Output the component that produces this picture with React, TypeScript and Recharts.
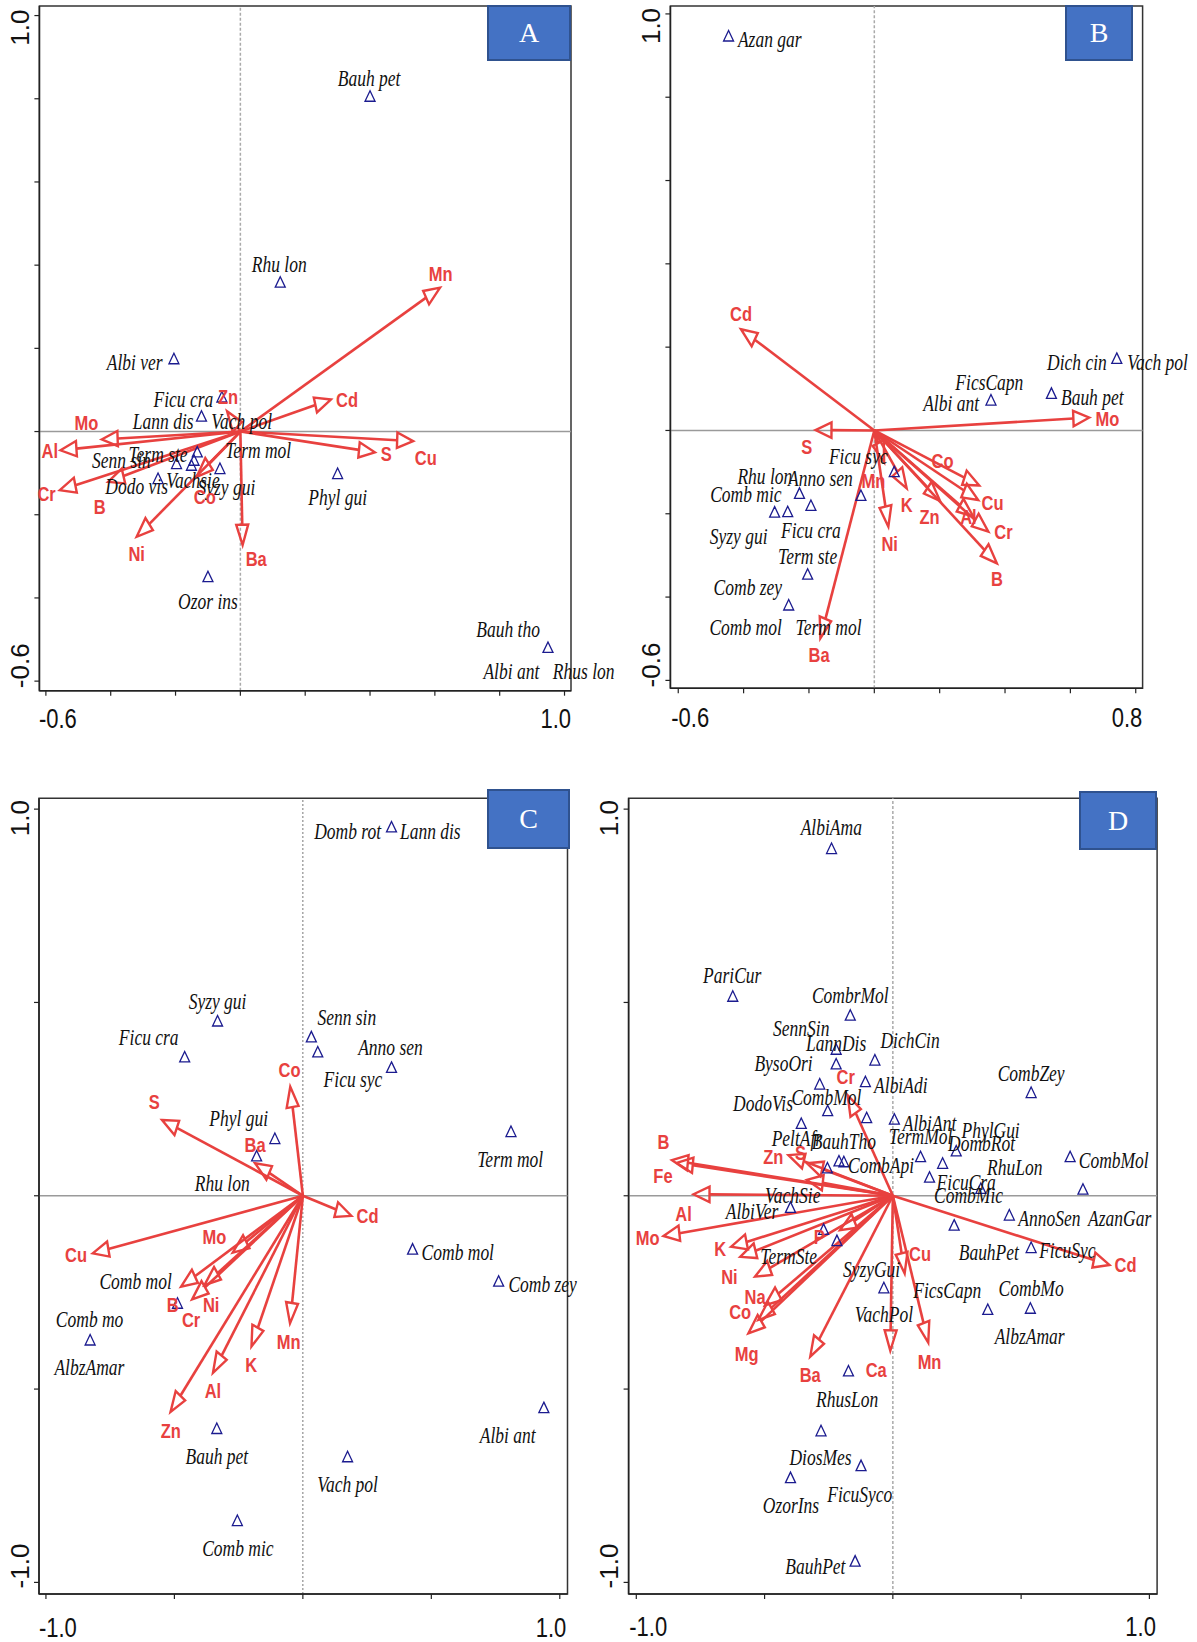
import React from 'react';
import { ScatterChart, Scatter, XAxis, YAxis, ReferenceLine, ReferenceArea } from 'recharts';

type Tag = [string, number, number, ('start' | 'middle' | 'end')?];
type Pt = [number, number];

const RED = '#e8413f';
const NAVY = '#1b1b8f';
// the source figure is stretched vertically, so text and arrow heads are too
const SY = 1.28;

// ---------- Panel A ----------
const A_X_TICKS = [-0.6, -0.4, -0.2, 0, 0.2, 0.4, 0.6, 0.8, 1.0];
const A_Y_TICKS = [-0.6, -0.4, -0.2, 0, 0.2, 0.4, 0.6, 0.8, 1.0];
const A_SPECIES: Pt[] = [
  [0.4, 0.806], [0.123, 0.359], [-0.205, 0.175], [-0.057, 0.083], [-0.12, 0.037],
  [-0.133, -0.049], [-0.143, -0.069], [-0.197, -0.077], [-0.151, -0.081], [-0.063, -0.089],
  [-0.254, -0.113], [0.3, -0.101], [-0.1, -0.349], [0.949, -0.519],
];
const A_SPECIES_LABELS: Tag[] = [
  ['Bauh pet', 0.397, 0.85], ['Rhu lon', 0.12, 0.402], ['Albi ver', -0.326, 0.167],
  ['Ficu cra', -0.176, 0.077], ['Lann dis', -0.238, 0.025], ['Vach pol', 0.004, 0.025],
  ['Term ste', -0.254, -0.055], ['Senn sin', -0.367, -0.069], ['Term mol', 0.055, -0.045],
  ['Dodo vis', -0.32, -0.131], ['Vachsie', -0.146, -0.117], ['Syzy gui', -0.043, -0.134],
  ['Phyl gui', 0.3, -0.157], ['Ozor ins', -0.1, -0.407], ['Bauh tho', 0.826, -0.475],
  ['Albi ant', 0.836, -0.577], ['Rhus lon', 0.964, -0.577, 'start'],
];
const A_ARROWS: Tag[] = [
  ['Mn', 0.616, 0.346], ['Cd', 0.279, 0.077], ['Cu', 0.533, -0.023], ['S', 0.415, -0.05],
  ['Ba', 0.007, -0.273], ['Ni', -0.32, -0.253], ['Co', -0.135, -0.109], ['B', -0.408, -0.121],
  ['Cr', -0.557, -0.141], ['Al', -0.555, -0.045], ['Mo', -0.428, -0.019], ['Zn', -0.041, 0.049],
];
const A_ARROW_LABELS: Tag[] = [
  ['Mn', 0.618, 0.379], ['Cd', 0.329, 0.077], ['S', 0.45, -0.053], ['Cu', 0.572, -0.062],
  ['Ba', 0.049, -0.305], ['Ni', -0.32, -0.293], ['Co', -0.11, -0.157], ['B', -0.434, -0.181],
  ['Cr', -0.598, -0.149], ['Al', -0.588, -0.045], ['Mo', -0.475, 0.021], ['Zn', -0.038, 0.083],
];

// ---------- Panel B ----------
const B_X_TICKS = [-0.6, -0.4, -0.2, 0, 0.2, 0.4, 0.6, 0.8];
const B_Y_TICKS = [-0.6, -0.4, -0.2, 0, 0.2, 0.4, 0.6, 0.8, 1.0];
const B_SPECIES: Pt[] = [
  [-0.446, 0.947], [0.742, 0.173], [0.542, 0.089], [0.357, 0.073], [0.061, -0.099],
  [-0.041, -0.156], [-0.229, -0.151], [-0.194, -0.18], [-0.265, -0.195], [-0.305, -0.196],
  [-0.204, -0.345], [-0.262, -0.419],
];
const B_SPECIES_LABELS: Tag[] = [
  ['Azan gar', -0.32, 0.939], ['Dich cin', 0.62, 0.165], ['Vach pol', 0.774, 0.165, 'start'],
  ['Bauh pet', 0.667, 0.081], ['FicsCapn', 0.352, 0.115], ['Albi ant', 0.235, 0.065],
  ['Ficu syc', -0.049, -0.061], ['Rhu lon', -0.335, -0.109], ['Anno sen', -0.165, -0.115],
  ['Comb mic', -0.393, -0.153], ['Ficu cra', -0.194, -0.239], ['Syzy gui', -0.415, -0.255],
  ['Term ste', -0.204, -0.303], ['Comb zey', -0.387, -0.376], ['Comb mol', -0.394, -0.473],
  ['Term mol', -0.14, -0.473],
];
const B_ARROWS: Tag[] = [
  ['Cd', -0.408, 0.243], ['Mo', 0.658, 0.031], ['S', -0.18, 0.001], ['Ba', -0.165, -0.499],
  ['Mn', 0.03, -0.076], ['Ni', 0.043, -0.231], ['K', 0.099, -0.139], ['Zn', 0.201, -0.169],
  ['Co', 0.321, -0.132], ['Cu', 0.318, -0.167], ['Al', 0.303, -0.207], ['Cr', 0.349, -0.243],
  ['B', 0.375, -0.319],
];
const B_ARROW_LABELS: Tag[] = [
  ['Cd', -0.408, 0.281], ['Mo', 0.713, 0.029], ['S', -0.207, -0.04], ['Ba', -0.169, -0.539],
  ['Mn', -0.003, -0.12], ['Ni', 0.047, -0.271], ['K', 0.099, -0.179], ['Zn', 0.169, -0.207],
  ['Co', 0.209, -0.072], ['Cu', 0.362, -0.173], ['Al', 0.288, -0.207], ['Cr', 0.395, -0.243],
  ['B', 0.375, -0.355],
];

// ---------- Panel C ----------
const C_X_TICKS = [-1.0, -0.5, 0, 0.5, 1.0];
const C_Y_TICKS = [-1.0, -0.5, 0, 0.5, 1.0];
const C_SPECIES: Pt[] = [
  [0.345, 0.954], [-0.332, 0.452], [-0.46, 0.359], [0.033, 0.411], [0.058, 0.372],
  [0.345, 0.332], [0.81, 0.166], [-0.109, 0.148], [-0.18, 0.103], [0.427, -0.138],
  [0.762, -0.221], [-0.488, -0.278], [-0.828, -0.373], [0.938, -0.548], [-0.335, -0.602],
  [0.174, -0.675], [-0.255, -0.84],
];
const C_SPECIES_LABELS: Tag[] = [
  ['Domb rot', 0.174, 0.944], ['Lann dis', 0.496, 0.944], ['Syzy gui', -0.332, 0.502],
  ['Ficu cra', -0.6, 0.411], ['Senn sin', 0.171, 0.463], ['Anno sen', 0.341, 0.385],
  ['Ficu syc', 0.195, 0.301], ['Term mol', 0.807, 0.094], ['Phyl gui', -0.25, 0.2],
  ['Rhu lon', -0.314, 0.032], ['Comb mol', 0.603, -0.145], ['Comb zey', 0.8, -0.228, 'start'],
  ['Comb mol', -0.651, -0.222], ['Comb mo', -0.83, -0.32], ['AlbzAmar', -0.831, -0.444],
  ['Albi ant', 0.797, -0.619], ['Bauh pet', -0.335, -0.673], ['Vach pol', 0.174, -0.746],
  ['Comb mic', -0.253, -0.912],
];
const C_ARROWS: Tag[] = [
  ['Co', -0.049, 0.282], ['S', -0.548, 0.196], ['Ba', -0.186, 0.084], ['Cd', 0.189, -0.052],
  ['Cu', -0.818, -0.149], ['Mo', -0.273, -0.147], ['B', -0.474, -0.235], ['Cr', -0.431, -0.268],
  ['Ni', -0.383, -0.231], ['Mn', -0.05, -0.33], ['K', -0.2, -0.39], ['Al', -0.35, -0.458],
  ['Zn', -0.515, -0.559],
];
const C_ARROW_LABELS: Tag[] = [
  ['Co', -0.052, 0.327], ['S', -0.578, 0.243], ['Ba', -0.186, 0.131], ['Cd', 0.252, -0.052],
  ['Cu', -0.883, -0.153], ['Mo', -0.344, -0.106], ['B', -0.507, -0.283], ['Cr', -0.435, -0.321],
  ['Ni', -0.357, -0.283], ['Mn', -0.055, -0.378], ['K', -0.201, -0.438], ['Al', -0.35, -0.504],
  ['Zn', -0.514, -0.608],
];

// ---------- Panel D ----------
const D_X_TICKS = [-1.0, -0.5, 0, 0.5, 1.0];
const D_Y_TICKS = [-1.0, -0.5, 0, 0.5, 1.0];
const D_SPECIES: Pt[] = [
  [-0.239, 0.898], [-0.624, 0.516], [-0.166, 0.467], [-0.221, 0.379], [-0.221, 0.341],
  [-0.07, 0.351], [-0.285, 0.289], [-0.107, 0.295], [0.539, 0.267], [-0.254, 0.22],
  [-0.102, 0.202], [0.006, 0.198], [-0.357, 0.187], [-0.21, 0.09], [-0.191, 0.088],
  [-0.255, 0.072], [0.108, 0.101], [0.194, 0.084], [0.247, 0.116], [0.143, 0.048],
  [0.691, 0.101], [0.741, 0.017], [0.343, 0.019], [-0.399, -0.03], [0.239, -0.076],
  [0.454, -0.05], [0.539, -0.134], [-0.27, -0.087], [-0.218, -0.116], [-0.035, -0.238],
  [0.37, -0.294], [0.536, -0.291], [-0.173, -0.453], [-0.28, -0.608], [-0.124, -0.698],
  [-0.399, -0.729], [-0.147, -0.945],
];
const D_SPECIES_LABELS: Tag[] = [
  ['AlbiAma', -0.24, 0.953], ['PariCur', -0.626, 0.571], ['CombrMol', -0.166, 0.519],
  ['SennSin', -0.357, 0.433], ['LannDis', -0.221, 0.394], ['DichCin', 0.067, 0.403],
  ['BysoOri', -0.426, 0.342], ['AlbiAdi', 0.031, 0.286], ['CombZey', 0.539, 0.318],
  ['DodoVis', -0.506, 0.239], ['CombMol', -0.259, 0.254], ['AlbiAnt', 0.143, 0.187],
  ['PhylGui', 0.381, 0.17], ['TermMol', 0.108, 0.153], ['DombRot', 0.346, 0.135],
  ['PeltAfr', -0.374, 0.148], ['BauhTho', -0.191, 0.142], ['CombApi', -0.046, 0.079],
  ['RhuLon', 0.475, 0.075], ['CombMol', 0.861, 0.092], ['FicuCra', 0.286, 0.036],
  ['CombMic', 0.295, 0.002], ['VachSie', -0.39, 0.002], ['AlbiVer', -0.549, -0.041],
  ['AnnoSen', 0.61, -0.058], ['AzanGar', 0.884, -0.058], ['BauhPet', 0.374, -0.145],
  ['FicuSyc', 0.68, -0.142], ['TermSte', -0.406, -0.156], ['SyzyGui', -0.083, -0.19],
  ['FicsCapn', 0.212, -0.244], ['CombMo', 0.539, -0.24], ['VachPol', -0.035, -0.307],
  ['AlbzAmar', 0.533, -0.363], ['RhusLon', -0.178, -0.527], ['DiosMes', -0.282, -0.677],
  ['FicuSyco', -0.129, -0.771], ['OzorIns', -0.397, -0.8], ['BauhPet', -0.302, -0.957],
];
const D_ARROWS: Tag[] = [
  ['B', -0.861, 0.092], ['Fe', -0.842, 0.085], ['Al', -0.777, 0.004], ['Mo', -0.894, -0.104],
  ['K', -0.631, -0.132], ['', -0.595, -0.158], ['Ni', -0.537, -0.209], ['Na', -0.498, -0.283],
  ['Co', -0.524, -0.321], ['Mg', -0.563, -0.356], ['Ba', -0.322, -0.416], ['Ca', -0.01, -0.401],
  ['Mn', 0.138, -0.38], ['Cu', 0.046, -0.201], ['Cd', 0.844, -0.179], ['Cr', -0.176, 0.26],
  ['Zn', -0.407, 0.105], ['S', -0.335, 0.084], ['', -0.335, 0.041], ['P', -0.206, -0.089],
];
const D_ARROW_LABELS: Tag[] = [
  ['B', -0.894, 0.14], ['Fe', -0.896, 0.051], ['Al', -0.816, -0.046], ['Mo', -0.956, -0.108],
  ['K', -0.673, -0.136], ['Ni', -0.637, -0.209], ['Na', -0.537, -0.261], ['Co', -0.595, -0.3],
  ['Mg', -0.57, -0.408], ['Ba', -0.322, -0.464], ['Ca', -0.065, -0.449], ['Mn', 0.143, -0.429],
  ['Cu', 0.106, -0.151], ['Cd', 0.907, -0.179], ['Cr', -0.184, 0.308], ['Zn', -0.466, 0.101],
  ['S', -0.36, 0.11], ['P', -0.287, -0.106],
];

const toPts = (arr: Pt[]) => arr.map(([x, y]) => ({ x, y }));
const toTags = (arr: Tag[]) => arr.map(([text, x, y, anchor]) => ({ text, x, y, anchor: anchor || 'middle' }));

const triangle = (s: any) => {
  const { cx, cy } = s;
  return (
    <polygon
      points={`${cx},${cy - 5.5} ${cx + 5},${cy + 5} ${cx - 5},${cy + 5}`}
      fill="none"
      stroke={NAVY}
      strokeWidth={1.3}
    />
  );
};

const speciesText = (s: any) => (
  <text
    transform={`translate(${s.cx},${s.cy}) scale(1,${SY})`}
    textAnchor={s.payload.anchor}
    dominantBaseline="central"
    fontFamily="'Liberation Serif', 'Times New Roman', serif"
    fontStyle="italic"
    fontSize={17.5}
    fill="#111"
  >
    {s.payload.text}
  </text>
);

const arrowText = (s: any) => (
  <text
    transform={`translate(${s.cx},${s.cy}) scale(1,${SY})`}
    textAnchor={s.payload.anchor}
    dominantBaseline="central"
    fontFamily="'Liberation Sans', Arial, sans-serif"
    fontWeight="bold"
    fontSize={16.5}
    fill={RED}
  >
    {s.payload.text}
  </text>
);

// arrow from origin with an open head, built in unstretched space
const arrowShape = (p: any) => {
  const { x1, y1, x2, y2 } = p;
  if ([x1, y1, x2, y2].some((v) => v == null || isNaN(v))) return <g />;
  const dx = x2 - x1;
  const dy = (y2 - y1) / SY;
  const len = Math.hypot(dx, dy) || 1;
  const ux = dx / len;
  const uy = dy / len;
  const L = 16;
  const W = 6;
  const bx = x2 - ux * L;
  const by = y2 - uy * L * SY;
  const p1 = `${x2 - ux * L - uy * W},${y2 + (-uy * L + ux * W) * SY}`;
  const p2 = `${x2 - ux * L + uy * W},${y2 + (-uy * L - ux * W) * SY}`;
  return (
    <g>
      <line x1={x1} y1={y1} x2={bx} y2={by} stroke={RED} strokeWidth={2.6} />
      <polygon points={`${x2},${y2} ${p1} ${p2}`} fill="none" stroke={RED} strokeWidth={2.4} strokeLinejoin="miter" />
    </g>
  );
};

interface PanelProps {
  left: number;
  top: number;
  width: number;
  height: number;
  margin: { top: number; right: number; left: number; bottom: number };
  yAxisWidth: number;
  xAxisHeight: number;
  xDomain: [number, number];
  yDomain: [number, number];
  xTicks: number[];
  yTicks: number[];
  species: Pt[];
  speciesLabels: Tag[];
  arrows: Tag[];
  arrowLabels: Tag[];
  xLabelDy: number;
  yTopDy: number;
  yBottomDy: number;
  vLine: { stroke: string; width: number; dash: string };
}

const Panel: React.FC<PanelProps> = (p) => {
  const xFirst = p.xTicks[0];
  const xLast = p.xTicks[p.xTicks.length - 1];
  const yFirst = p.yTicks[0];
  const yLast = p.yTicks[p.yTicks.length - 1];

  const xTick = (t: any) => {
    const v = t.payload.value;
    if (v !== xFirst && v !== xLast) return <g />;
    const first = v === xFirst;
    return (
      <text
        transform={`translate(${t.x + (first ? -7 : 6.5)},${t.y + p.xLabelDy}) scale(1,${SY})`}
        textAnchor={first ? 'start' : 'end'}
        fontFamily="'Liberation Sans', Arial, sans-serif"
        fontSize={22}
        fill="#111"
      >
        {v.toFixed(1)}
      </text>
    );
  };

  const yTick = (t: any) => {
    const v = t.payload.value;
    if (v !== yFirst && v !== yLast) return <g />;
    const isTop = v === yLast;
    return (
      <text
        transform={`translate(${t.x - 5.5},${t.y + (isTop ? p.yTopDy : p.yBottomDy)}) rotate(-90)`}
        textAnchor={isTop ? 'end' : 'start'}
        fontFamily="'Liberation Sans', Arial, sans-serif"
        fontSize={26}
        fill="#111"
      >
        {v.toFixed(1)}
      </text>
    );
  };

  return (
    <div style={{ position: 'absolute', left: p.left, top: p.top, width: p.width, height: p.height }}>
      <ScatterChart width={p.width} height={p.height} margin={p.margin}>
        <XAxis
          type="number"
          dataKey="x"
          domain={p.xDomain}
          ticks={p.xTicks}
          interval={0}
          tickSize={5}
          tickMargin={0}
          height={p.xAxisHeight}
          axisLine={{ stroke: '#222', strokeWidth: 1.5 }}
          tickLine={{ stroke: '#222', strokeWidth: 1.2 }}
          tick={xTick}
        />
        <YAxis
          type="number"
          dataKey="y"
          domain={p.yDomain}
          ticks={p.yTicks}
          interval={0}
          tickSize={5}
          tickMargin={0}
          width={p.yAxisWidth}
          axisLine={{ stroke: '#222', strokeWidth: 1.5 }}
          tickLine={{ stroke: '#222', strokeWidth: 1.2 }}
          tick={yTick}
        />
        <ReferenceArea
          x1={p.xDomain[0]}
          x2={p.xDomain[1]}
          y1={p.yDomain[0]}
          y2={p.yDomain[1]}
          fill="none"
          stroke="#333"
          strokeWidth={1.5}
          ifOverflow="visible"
        />
        <ReferenceLine y={0} stroke="#9a9a9a" strokeWidth={1.5} />
        <ReferenceLine x={0} stroke={p.vLine.stroke} strokeWidth={p.vLine.width} strokeDasharray={p.vLine.dash} />
        <Scatter data={toPts(p.species)} shape={triangle} isAnimationActive={false} />
        <Scatter data={toTags(p.speciesLabels)} shape={speciesText} isAnimationActive={false} />
        {p.arrows.map(([name, x, y], i) => (
          <ReferenceLine
            key={`${name}-${i}`}
            segment={[{ x: 0, y: 0 }, { x, y }]}
            shape={arrowShape}
            ifOverflow="visible"
          />
        ))}
        <Scatter data={toTags(p.arrowLabels)} shape={arrowText} isAnimationActive={false} />
      </ScatterChart>
    </div>
  );
};

const Box: React.FC<{ letter: string; left: number; top: number; width: number; height: number }> = (b) => (
  <div
    style={{
      position: 'absolute',
      left: b.left,
      top: b.top,
      width: b.width,
      height: b.height,
      boxSizing: 'border-box',
      background: '#4472c4',
      border: '2px solid #2f528f',
      color: '#fff',
      fontFamily: "'Liberation Serif', 'Times New Roman', serif",
      fontSize: 28,
      display: 'flex',
      alignItems: 'center',
      justifyContent: 'center',
    }}
  >
    {b.letter}
  </div>
);

export default function App() {
  return (
    <div style={{ position: 'absolute', left: 0, top: 0, width: 1197, height: 1642, background: '#fff', overflow: 'hidden' }}>
      <Panel
        left={0}
        top={0}
        width={630}
        height={740}
        margin={{ top: 6, right: 59, left: 0, bottom: 0 }}
        yAxisWidth={39.4}
        xAxisHeight={49.3}
        xDomain={[-0.62, 1.02]}
        yDomain={[-0.623, 1.023]}
        xTicks={A_X_TICKS}
        yTicks={A_Y_TICKS}
        species={A_SPECIES}
        speciesLabels={A_SPECIES_LABELS}
        arrows={A_ARROWS}
        arrowLabels={A_ARROW_LABELS}
        xLabelDy={32.3}
        yTopDy={-6}
        yBottomDy={7}
        vLine={{ stroke: '#aaa', width: 1.5, dash: '3 2' }}
      />
      <Panel
        left={600}
        top={0}
        width={597}
        height={740}
        margin={{ top: 6, right: 54.4, left: 0, bottom: 0 }}
        yAxisWidth={70.4}
        xAxisHeight={51.7}
        xDomain={[-0.624, 0.821]}
        yDomain={[-0.619, 1.019]}
        xTicks={B_X_TICKS}
        yTicks={B_Y_TICKS}
        species={B_SPECIES}
        speciesLabels={B_SPECIES_LABELS}
        arrows={B_ARROWS}
        arrowLabels={B_ARROW_LABELS}
        xLabelDy={33.4}
        yTopDy={-6}
        yBottomDy={7}
        vLine={{ stroke: '#aaa', width: 1.5, dash: '3 2' }}
      />
      <Panel
        left={0}
        top={760}
        width={600}
        height={882}
        margin={{ top: 38.3, right: 32.5, left: 0, bottom: 0 }}
        yAxisWidth={39}
        xAxisHeight={48}
        xDomain={[-1.027, 1.03]}
        yDomain={[-1.03, 1.028]}
        xTicks={C_X_TICKS}
        yTicks={C_Y_TICKS}
        species={C_SPECIES}
        speciesLabels={C_SPECIES_LABELS}
        arrows={C_ARROWS}
        arrowLabels={C_ARROW_LABELS}
        xLabelDy={37.7}
        yTopDy={-9}
        yBottomDy={6}
        vLine={{ stroke: '#555', width: 0.8, dash: '2 2' }}
      />
      <Panel
        left={580}
        top={760}
        width={617}
        height={882}
        margin={{ top: 38.3, right: 39.9, left: 0, bottom: 0 }}
        yAxisWidth={48.6}
        xAxisHeight={48}
        xDomain={[-1.03, 1.03]}
        yDomain={[-1.03, 1.028]}
        xTicks={D_X_TICKS}
        yTicks={D_Y_TICKS}
        species={D_SPECIES}
        speciesLabels={D_SPECIES_LABELS}
        arrows={D_ARROWS}
        arrowLabels={D_ARROW_LABELS}
        xLabelDy={37}
        yTopDy={-9}
        yBottomDy={6}
        vLine={{ stroke: '#aaa', width: 1.5, dash: '3 2' }}
      />
      <Box letter="A" left={487} top={5} width={84} height={56} />
      <Box letter="B" left={1065} top={5} width={68} height={56} />
      <Box letter="C" left={487} top={789} width={83} height={60} />
      <Box letter="D" left={1079} top={791} width={78} height={59} />
    </div>
  );
}
